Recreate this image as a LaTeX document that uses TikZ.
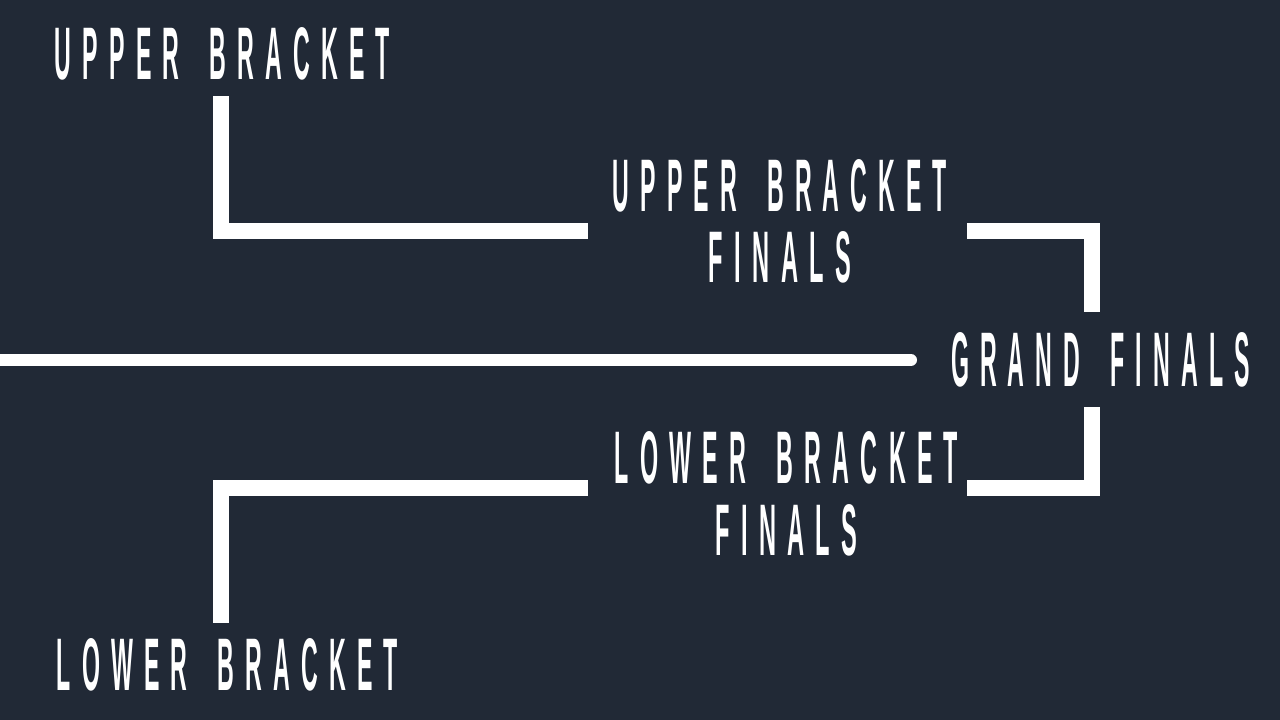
\documentclass[tikz,border=0pt]{standalone}
\usepackage{fontspec}
\usepackage{graphicx}
\newfontfamily\brfont{Liberation Sans}[LetterSpace=48]
\definecolor{bg}{HTML}{212936}
\newcommand{\lbl}[3]{\resizebox{#1pt}{#2pt}{\brfont\bfseries #3}}
\newcommand{\ws}{\hspace{0.55em}}
\tikzset{
  bar/.style={draw=white, line width=16pt},
  gline/.style={draw=white, line width=12pt, line cap=round},
  lbl/.style={text=white, inner sep=0pt, outer sep=0pt, align=center,
              font=\fontsize{20pt}{71.5pt}\selectfont}
}
\begin{document}
\begin{tikzpicture}[x=1pt,y=-1pt]
\useasboundingbox (0,0) rectangle (1280,720);
\fill[bg] (0,0) rectangle (1280,720);

\node[lbl] (ub)  at (222.5,54)   {\lbl{335}{52}{UPPER \ws BRACKET}};
\node[lbl] (ubf) at (780,221.5)  {\lbl{334}{52}{UPPER \ws BRACKET}\\\lbl{142}{51}{FINALS}};
\node[lbl] (gf)  at (1100.5,360) {\lbl{299}{54}{GRAND \ws FINALS}};
\node[lbl] (lbf) at (786.5,494)  {\lbl{343}{52}{LOWER \ws BRACKET}\\\lbl{142}{51}{FINALS}};
\node[lbl] (lb)  at (227.5,665)  {\lbl{341}{52}{LOWER \ws BRACKET}};
\coordinate (lstart) at (-10,360);

\draw[bar] ([shift={(-1.5,16)}]ub.south) |- ([shift={(-25,9.5)}]ubf.west);
\draw[bar] ([shift={(20,9.5)}]ubf.east) -| ([shift={(-8.5,-21)}]gf.north);
\draw[bar] ([shift={(-8.5,20)}]gf.south) |- ([shift={(9,-6)}]lbf.east);
\draw[bar] ([shift={(-27,-6)}]lbf.west) -| ([shift={(-6.5,-16)}]lb.north);
\draw[gline] (lstart) -- ([xshift=-40pt]gf.west);
\end{tikzpicture}
\end{document}
